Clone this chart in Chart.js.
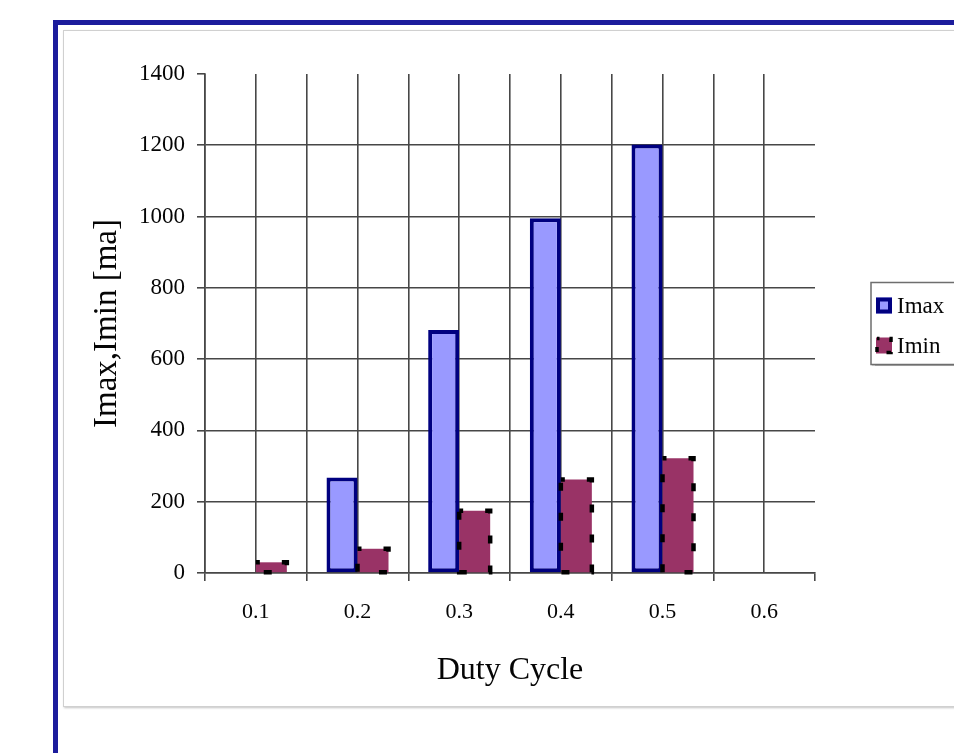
<!DOCTYPE html>
<html>
<head>
<meta charset="utf-8">
<script src="https://cdn.jsdelivr.net/npm/chart.js@4/dist/chart.umd.min.js"></script>
<style>
  html, body { margin: 0; padding: 0; background: #fff; width: 954px; height: 753px; overflow: hidden; }
  #frame { position: absolute; left: 53px; top: 20px; width: 1000px; height: 800px;
           border-left: 5px solid #1c1c9c; border-top: 5px solid #1c1c9c; box-sizing: border-box; }
  #panel { position: absolute; left: 63px; top: 30px; width: 1000px; height: 677px;
           border: 1px solid #d0d0d0; box-shadow: 1px 1px 2px #c4c4c4; background: #fff; box-sizing: border-box; }
  #chart { position: absolute; left: 66px; top: 32px; }
</style>
</head>
<body>
<div id="frame"></div>
<div id="panel"></div>
<canvas id="chart" width="900" height="680"></canvas>
<script>
// Peak and valley current against duty cycle
const dutyCycle = ['0.1', '0.2', '0.3', '0.4', '0.5', '0.6'];
const imaxValues = [null, 268, 682, 995, 1202, null];
const iminValues = [30, 68, 175, 262, 322, null];
const currentTicks = [0, 200, 400, 600, 800, 1000, 1200, 1400];

const SERIF = "'Liberation Serif', 'Times New Roman', serif";
const GRID = '#474747';
const INK = '#050505';

// Black dashed outline drawn over the bars of datasets flagged with outlineDash
const dashedOutline = {
  id: 'dashedOutline',
  afterDatasetsDraw(chart) {
    const ctx = chart.ctx;
    chart.data.datasets.forEach((ds, i) => {
      if (!ds.outlineDash) return;
      const meta = chart.getDatasetMeta(i);
      meta.data.forEach((bar, j) => {
        if (ds.data[j] == null) return;
        const p = bar.getProps(['x', 'y', 'base', 'width'], true);
        ctx.save();
        ctx.strokeStyle = '#000';
        ctx.lineWidth = 4.5;
        ctx.setLineDash([8, 22]);
        ctx.lineDashOffset = 4;
        ctx.strokeRect(p.x - p.width / 2, p.y, p.width, p.base - p.y);
        ctx.restore();
      });
    });
  }
};

// Legend in a framed box to the right of the plot
const boxedLegend = {
  id: 'boxedLegend',
  afterDraw(chart, args, opts) {
    const { ctx, chartArea } = chart;
    const sets = chart.data.datasets;
    const h = opts.height;
    const left = chartArea.right + opts.gap;
    const top = (chartArea.top + chartArea.bottom) / 2 - h / 2;
    ctx.save();
    ctx.shadowColor = 'rgba(0,0,0,0.35)';
    ctx.shadowOffsetX = 1; ctx.shadowOffsetY = 1; ctx.shadowBlur = 1;
    ctx.fillStyle = '#fff';
    ctx.fillRect(left, top, 140, h);
    ctx.shadowColor = 'transparent';
    ctx.strokeStyle = '#6e6e6e';
    ctx.lineWidth = 1.5;
    ctx.strokeRect(left, top, 140, h);
    ctx.font = '23px ' + SERIF;
    ctx.textBaseline = 'middle';
    sets.forEach((ds, i) => {
      const cy = top + opts.firstRow + opts.rowHeight * i;
      const s = 16, mx = left + 5, my = cy - s / 2;
      ctx.fillStyle = ds.backgroundColor;
      ctx.fillRect(mx, my, s, s);
      if (ds.outlineDash) {
        ctx.save();
        ctx.strokeStyle = '#000'; ctx.lineWidth = 3.5;
        ctx.setLineDash([5, 10]); ctx.lineDashOffset = 2.5;
        ctx.strokeRect(mx + 1, my + 1, s - 2, s - 2);
        ctx.restore();
      } else {
        ctx.strokeStyle = ds.borderColor; ctx.lineWidth = 4;
        ctx.strokeRect(mx + 2, my + 2, s - 4, s - 4);
      }
      ctx.fillStyle = INK;
      ctx.fillText(ds.label, mx + s + 5, cy + 1);
    });
    ctx.restore();
  }
};

new Chart(document.getElementById('chart'), {
  type: 'bar',
  data: {
    labels: dutyCycle,
    datasets: [
      { label: 'Imax', data: imaxValues, backgroundColor: '#9999ff', borderColor: '#000080',
        borderWidth: 4, borderSkipped: false },
      { label: 'Imin', data: iminValues, backgroundColor: '#993366', borderWidth: 0, outlineDash: true }
    ]
  },
  plugins: [dashedOutline, boxedLegend],
  options: {
    responsive: false,
    animation: false,
    events: [],
    categoryPercentage: 0.61,
    barPercentage: 1,
    layout: { padding: { left: 0, top: 42, right: 151, bottom: 0 } },
    plugins: {
      legend: { display: false },
      tooltip: { enabled: false },
      boxedLegend: { gap: 56, height: 82, firstRow: 23, rowHeight: 40 }
    },
    scales: {
      x: {
        offset: true,
        grid: {
          offset: true,
          color: c => (c.type === 'tick' ? GRID : 'transparent'),
          tickColor: GRID,
          lineWidth: 1.6,
          tickLength: 8
        },
        border: { display: true, color: GRID, width: 1.6 },
        ticks: { color: INK, font: { family: SERIF, size: 22 }, padding: 18, maxRotation: 0 },
        title: { display: true, text: 'Duty Cycle', color: INK,
                 font: { family: SERIF, size: 32 }, padding: { top: 0, bottom: 22 } },
        afterFit: s => { s.height = 139; }
      },
      xc: {
        type: 'category',
        position: 'bottom',
        offset: true,
        grid: { offset: false, color: GRID, lineWidth: 1.6, drawTicks: false },
        border: { display: false },
        ticks: { display: false },
        afterFit: s => { s.height = 0; }
      },
      y: {
        min: 0,
        max: 1400,
        afterBuildTicks: s => { s.ticks = currentTicks.map(v => ({ value: v })); },
        grid: {
          color: c => (c.tick && c.tick.value === 1400 ? 'transparent' : GRID),
          tickColor: GRID,
          lineWidth: 1.6,
          tickLength: 8
        },
        border: { display: true, color: GRID, width: 1.6 },
        ticks: { color: INK, font: { family: SERIF, size: 23 }, padding: 12, callback: v => String(v) },
        title: { display: true, text: 'Imax,Imin [ma]', color: INK,
                 font: { family: SERIF, size: 33 }, padding: { top: 22, bottom: 0 } },
        afterFit: s => { s.width = 139; }
      }
    }
  }
});
</script>
</body>
</html>
